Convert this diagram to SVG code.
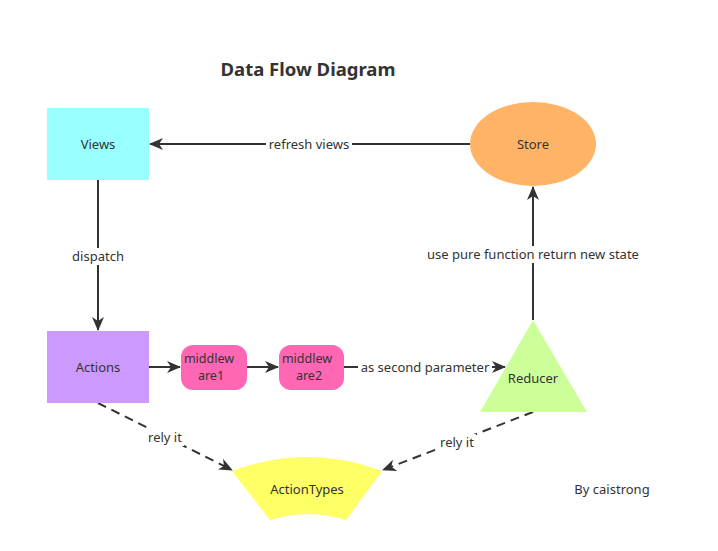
<svg xmlns="http://www.w3.org/2000/svg" width="718" height="551" viewBox="0 0 718 551">
<defs>
<style>
text{font-family:"Noto Sans","Open Sans","DejaVu Sans",sans-serif;font-size:13px;fill:#333;text-anchor:middle;dominant-baseline:central}
.title{font-size:18.5px;font-weight:bold}
.mw{font-size:12.5px}
.ln{stroke:#333;stroke-width:2;fill:none}
.dash{stroke-dasharray:9 6}
.lbl{fill:#fff;stroke:none}
</style>
<marker id="ah" markerWidth="14" markerHeight="12" refX="13" refY="6" orient="auto" markerUnits="userSpaceOnUse">
<path d="M0,0 L14,6 L0,12 L4,6 Z" fill="#333"/>
</marker>
</defs>
<rect width="718" height="551" fill="#fff"/>
<text class="title" x="308" y="68">Data Flow Diagram</text>
<g id="connectors">
<line class="ln" x1="470" y1="144" x2="150" y2="144" marker-end="url(#ah)"/>
<line class="ln" x1="98" y1="180" x2="98" y2="330" marker-end="url(#ah)"/>
<line class="ln" x1="149" y1="367" x2="180" y2="367" marker-end="url(#ah)"/>
<line class="ln" x1="247" y1="367" x2="278" y2="367" marker-end="url(#ah)"/>
<line class="ln" x1="344" y1="367" x2="505" y2="367" marker-end="url(#ah)"/>
<line class="ln" x1="533" y1="320" x2="533" y2="187" marker-end="url(#ah)"/>
<line class="ln dash" x1="98" y1="403" x2="232" y2="470" marker-end="url(#ah)"/>
<line class="ln dash" x1="533" y1="412" x2="383" y2="470" marker-end="url(#ah)"/>
<rect class="lbl" x="266" y="136" width="86" height="16"/>
<text x="309" y="144">refresh views</text>
<rect class="lbl" x="70" y="248" width="56" height="17"/>
<text x="98" y="256">dispatch</text>
<rect class="lbl" x="358" y="359" width="134" height="16"/>
<text x="425" y="367">as second parameter</text>
<rect class="lbl" x="421" y="246" width="224" height="17"/>
<text x="533" y="254">use pure function return new state</text>
<rect class="lbl" x="146" y="429" width="38" height="17"/>
<text x="165" y="437">rely it</text>
<rect class="lbl" x="438" y="434" width="38" height="17"/>
<text x="457" y="442">rely it</text>
</g>
<g id="views">
<rect x="47" y="108" width="102" height="72" fill="#99FFFF"/>
<text x="98" y="144">Views</text>
</g>
<g id="store">
<ellipse cx="533" cy="144" rx="63" ry="42" fill="#FFB366"/>
<text x="533" y="144">Store</text>
</g>
<g id="actions">
<rect x="47" y="331" width="102" height="72" fill="#CC99FF"/>
<text x="98" y="367">Actions</text>
</g>
<g id="middleware1">
<rect x="181" y="345" width="66" height="45" rx="12" ry="12" fill="#FF66B3"/>
<text class="mw" x="209" y="358">middlew</text>
<text class="mw" x="211" y="375">are1</text>
</g>
<g id="middleware2">
<rect x="279" y="345" width="65" height="45" rx="12" ry="12" fill="#FF66B3"/>
<text class="mw" x="307" y="358">middlew</text>
<text class="mw" x="309" y="375">are2</text>
</g>
<g id="reducer">
<polygon points="533,320 587,412 480,412" fill="#CCFF99"/>
<text x="533" y="378">Reducer</text>
</g>
<g id="actiontypes">
<path d="M232,471 Q307,443 382,471 L346,520 Q308,508 270,520 Z" fill="#FFFF66"/>
<text x="307" y="489">ActionTypes</text>
</g>
<text x="612" y="489">By caistrong</text>
</svg>
